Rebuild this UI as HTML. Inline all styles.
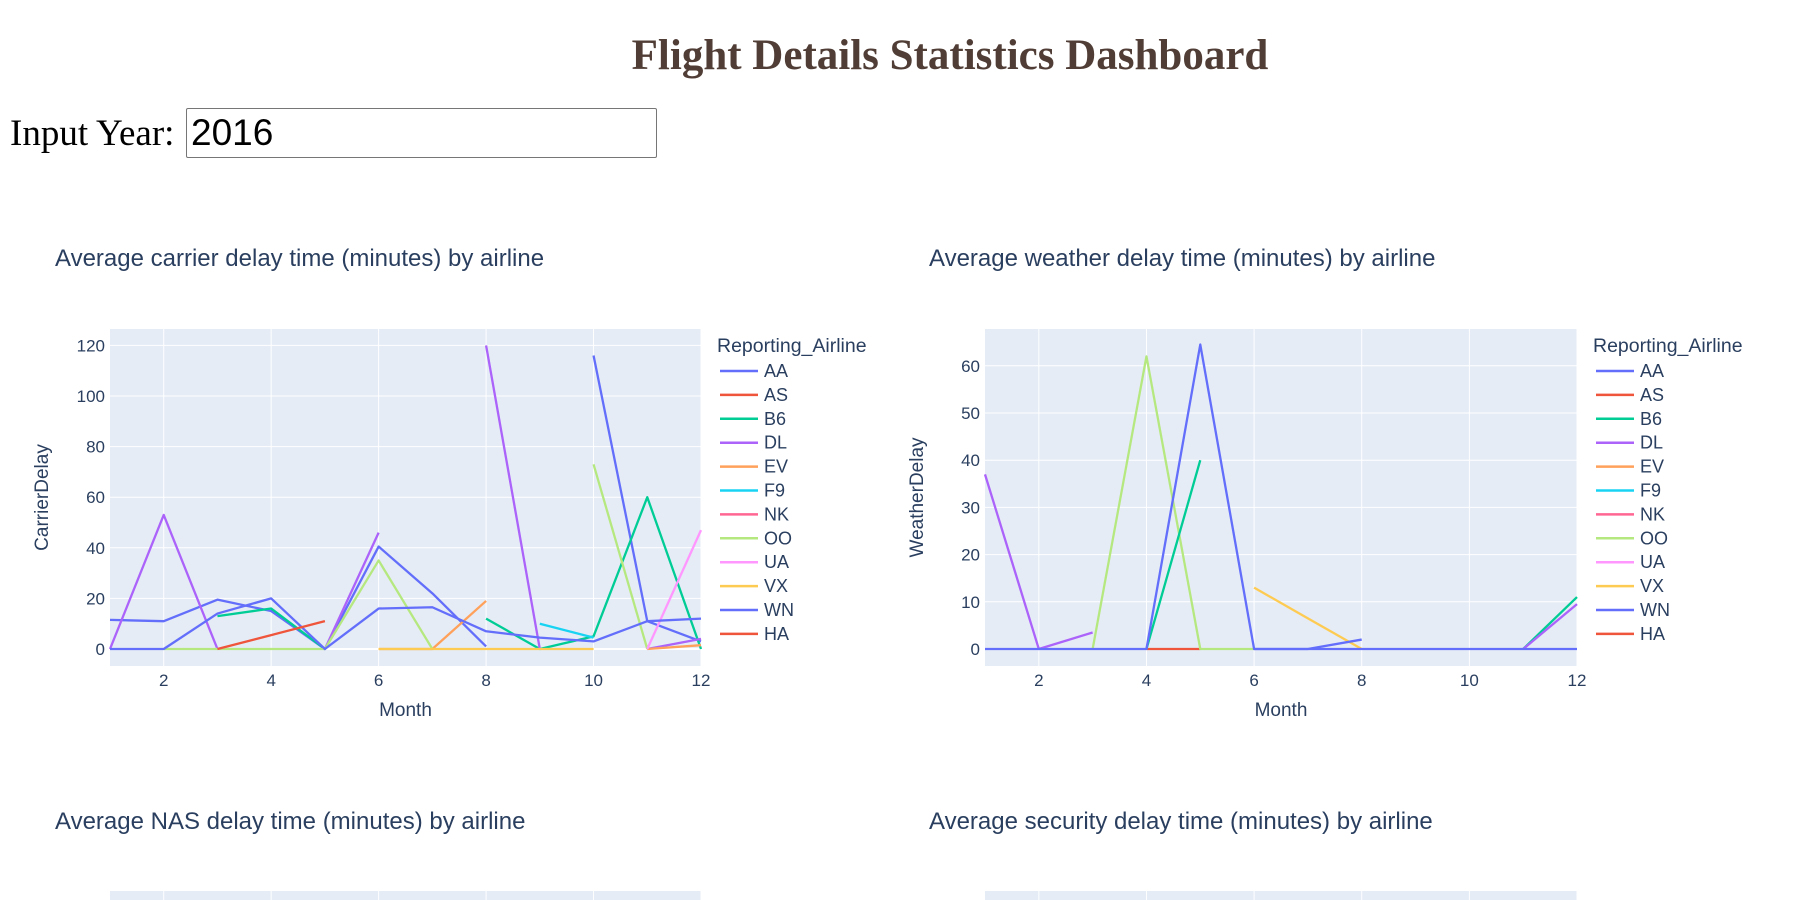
<!DOCTYPE html>
<html><head><meta charset="utf-8"><style>
body{margin:0;width:1818px;height:900px;overflow:hidden;background:#fff;font-family:"Liberation Sans",sans-serif}
h1{position:absolute;left:0;width:1900px;top:31px;margin:0;text-align:center;font:bold 43px "Liberation Serif",serif;color:#503d36}
#lbl{position:absolute;left:10px;top:112px;font:37px "Liberation Serif",serif;color:#000}
#yr{position:absolute;left:186px;top:108px;width:471px;height:50px;border:1px solid #767676;border-radius:2px;font:37px "Liberation Sans",sans-serif;padding:0 4px;box-sizing:border-box}
svg{position:absolute;left:0;top:0}
</style></head><body>
<h1>Flight Details Statistics Dashboard</h1>
<div id="lbl">Input Year:</div>
<input id="yr" value="2016">
<svg id="s" width="1818" height="900"></svg>
<script>
const months=[1,2,3,4,5,6,7,8,9,10,11,12];
const airlines=["AA","AS","B6","DL","EV","F9","NK","OO","UA","VX","WN","HA"];
const colors=["#636efa","#EF553B","#00cc96","#ab63fa","#FFA15A","#19d3f3","#FF6692","#B6E880","#FF97FF","#FECB52","#636efa","#EF553B"];
const n=null;
const carrierAA=[11.5,11,19.5,15,0,40.5,22,1,n,116,11,3];
const carrierB6=[n,n,13,16,0,n,n,12,0,5,60,0];
const carrierDL=[0,53,0,n,0,46,n,120,0,n,0,4];
const carrierEV=[n,n,n,n,n,0,0,19,n,n,0,1.5];
const carrierF9=[n,n,n,n,n,n,n,n,10,4.5,n,n];
const carrierOO=[n,0,0,0,0,35,0,n,n,73,0,n];
const carrierUA=[n,n,n,n,n,n,n,n,n,n,0,47];
const carrierVX=[n,n,n,n,n,0,0,0,0,0,n,n];
const carrierWN=[0,0,14,20,0,16,16.5,7,4.5,3,11,12];
const carrierHA=[n,n,0,5.5,11,n,n,n,n,n,n,n];
const carrierTicks=[0,20,40,60,80,100,120];
const weatherAA=[0,0,0,0,64.5,0,0,0,0,0,0,0];
const weatherB6=[n,n,n,0,40,n,n,n,n,n,0,11];
const weatherDL=[37,0,3.5,n,n,n,n,n,n,n,0,9.5];
const weatherOO=[n,n,0,62,0,0,n,n,n,n,n,n];
const weatherVX=[n,n,n,n,n,13,6.5,0,n,n,n,n];
const weatherWN=[n,n,n,n,n,0,0,2,n,n,n,n];
const weatherHA=[n,n,n,0,0,n,n,n,n,n,n,n];
const weatherTicks=[0,10,20,30,40,50,60];
const xTicks=[2,4,6,8,10,12];

const S=document.getElementById('s');const NS="http://www.w3.org/2000/svg";
function el(t,a,p){const e=document.createElementNS(NS,t);for(const k in a)e.setAttribute(k,a[k]);(p||S).appendChild(e);return e;}
function txt(x,y,s,a,name){const e=el('text',Object.assign({x:x,y:y,fill:'#2a3f5f','font-family':'Liberation Sans, sans-serif'},a));e.textContent=s;

return e;}

function chart(cfg){
 const {x0,x1,y0,y1,zeroY,perUnit,ticks,series,title,ytitle,prefix}=cfg;
 const X=m=>x0+(m-1)*(x1-x0)/11;const Y=v=>zeroY-v*perUnit;
 const bg=el('rect',{x:x0,y:y0,width:x1-x0,height:y1-y0,fill:'#e5ecf6'});
 
 
 xTicks.forEach(t=>{const l=el('line',{x1:X(t),x2:X(t),y1:y0,y2:y1,stroke:'#fff','stroke-width':1});
 
 
 txt(X(t),y1+20,t,{'font-size':17,'text-anchor':'middle'},prefix+'-x-tick');});
 ticks.forEach(t=>{const l=el('line',{x1:x0,x2:x1,y1:Y(t),y2:Y(t),stroke:'#fff','stroke-width':t==0?2:1});
 
 
 txt(x0-5,Y(t)+6,t,{'font-size':17,'text-anchor':'end'},prefix+'-y-tick');});
 series.forEach(s=>{if(!s.data)return;let seg=[];const flush=()=>{if(seg.length>1){const p=el('polyline',{points:seg.join(' '),fill:'none',stroke:s.color,'stroke-width':2.3,'stroke-linejoin':'round'});
 
 }seg=[];};
 s.data.forEach((v,i)=>{if(v===null)flush();else seg.push(X(months[i])+','+Y(v));});flush();});
 txt(cfg.tx,266,title,{'font-size':24},prefix+'-title');
 txt((x0+x1)/2,716,'Month',{'font-size':19,'text-anchor':'middle'},prefix+'-x-axis-title');
 txt(0,0,ytitle,{'font-size':19,'text-anchor':'middle',transform:`translate(${x0-62},${(y0+y1)/2}) rotate(-90)`},prefix+'-y-axis-title');
 const lx=x1+6;
 txt(lx+10,352,'Reporting_Airline',{'font-size':19.5},prefix+'-legend-title');
 airlines.forEach((a,i)=>{const y=371+i*23.9;const l=el('line',{x1:lx+13,x2:lx+51,y1:y,y2:y,stroke:colors[i],'stroke-width':2.5});
 
 
 txt(lx+57,y+6,a,{'font-size':18},prefix+'-legend-entry');});
}
chart({x0:110,x1:701,y0:329,y1:666,zeroY:649,perUnit:50.6/20,ticks:carrierTicks,tx:55,prefix:'carrier',
title:'Average carrier delay time (minutes) by airline',ytitle:'CarrierDelay',
series:[{name:'AA',color:colors[0],data:carrierAA},{name:'B6',color:colors[2],data:carrierB6},{name:'DL',color:colors[3],data:carrierDL},{name:'EV',color:colors[4],data:carrierEV},{name:'F9',color:colors[5],data:carrierF9},{name:'OO',color:colors[7],data:carrierOO},{name:'UA',color:colors[8],data:carrierUA},{name:'VX',color:colors[9],data:carrierVX},{name:'WN',color:colors[10],data:carrierWN},{name:'HA',color:colors[11],data:carrierHA}]});
chart({x0:985,x1:1577,y0:329,y1:666,zeroY:649,perUnit:47.2/10,ticks:weatherTicks,tx:929,prefix:'weather',
title:'Average weather delay time (minutes) by airline',ytitle:'WeatherDelay',
series:[{name:'HA',color:colors[11],data:weatherHA},{name:'OO',color:colors[7],data:weatherOO},{name:'B6',color:colors[2],data:weatherB6},{name:'DL',color:colors[3],data:weatherDL},{name:'VX',color:colors[9],data:weatherVX},{name:'WN',color:colors[10],data:weatherWN},{name:'AA',color:colors[0],data:weatherAA}]});
// bottom charts (partially visible)
[[110,55,'nas','Average NAS delay time (minutes) by airline',591],[985,929,'security','Average security delay time (minutes) by airline',592]].forEach(([x0,tx,p,t,w])=>{
 txt(tx,829,t,{'font-size':24},p+'-title');
 const r=el('rect',{x:x0,y:891,width:w,height:20,fill:'#e5ecf6'});
 
 
 xTicks.forEach(m=>{const l=el('line',{x1:x0+(m-1)*w/11,x2:x0+(m-1)*w/11,y1:891,y2:900,stroke:'#fff'});
 
 });
});
</script>
</body></html>
